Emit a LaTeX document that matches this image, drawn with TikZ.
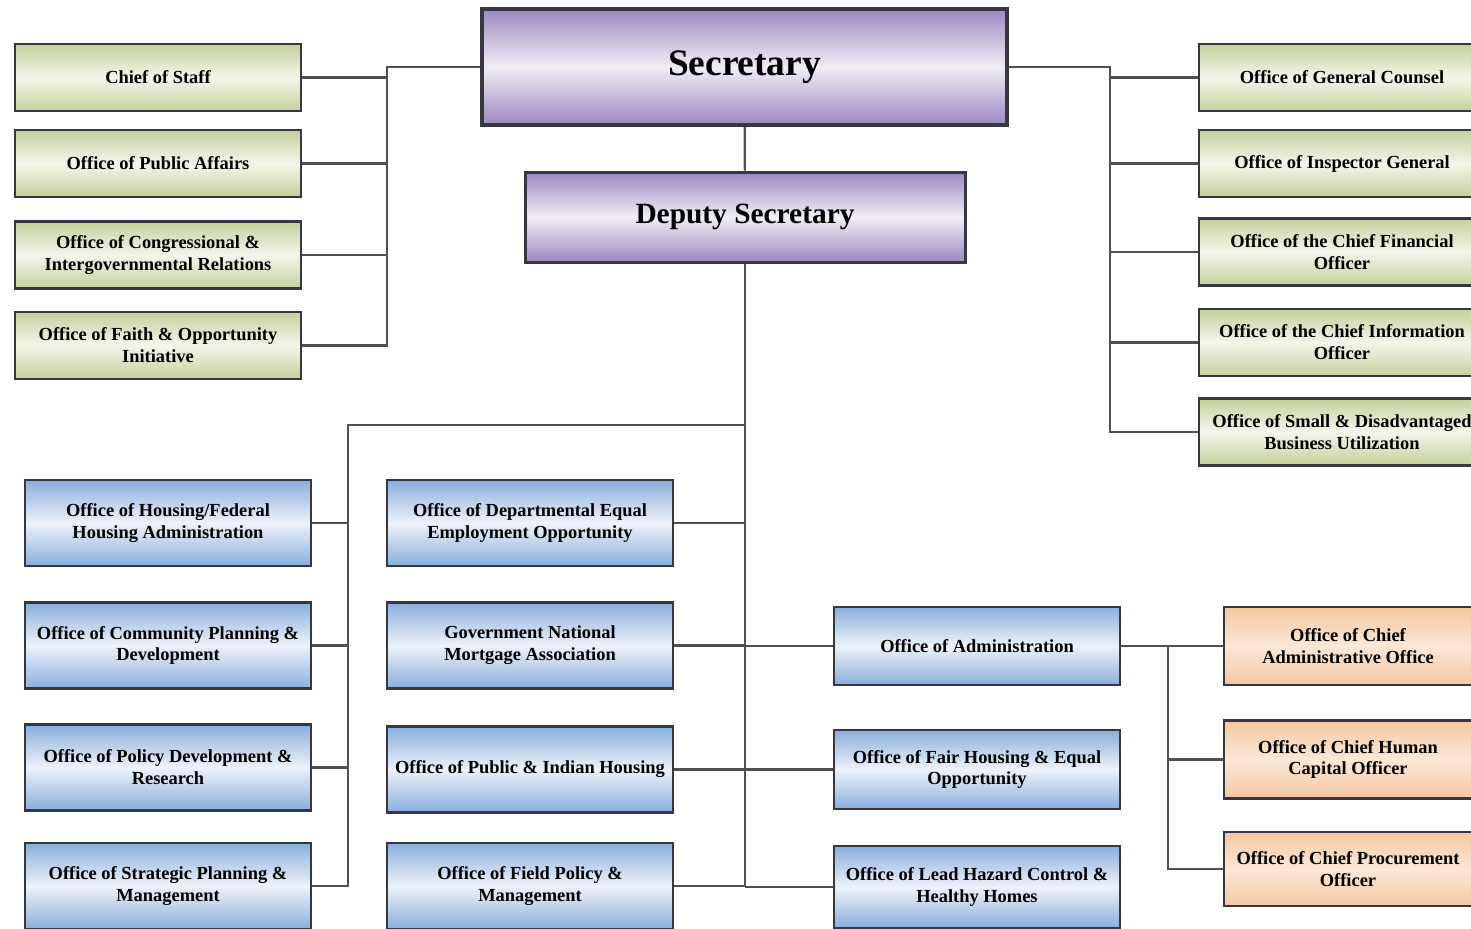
\documentclass[tikz,border=0pt]{standalone}
\usepackage{fontspec}
\setmainfont{Liberation Serif}
\definecolor{edgegray}{RGB}{55,55,65}
\definecolor{wiregray}{RGB}{80,80,80}
\definecolor{greenend}{RGB}{196,208,156}
\definecolor{greenmid}{RGB}{244,246,234}
\definecolor{blueend}{RGB}{136,174,220}
\definecolor{bluemid}{RGB}{238,242,249}
\definecolor{orangeend}{RGB}{244,198,160}
\definecolor{orangemid}{RGB}{252,232,214}
\definecolor{purpleend}{RGB}{156,136,192}
\definecolor{purplemid}{RGB}{240,237,245}
\tikzset{
  unit/.style={draw=edgegray,line width=2.2bp,align=center,inner sep=2bp,
    font=\fontsize{18.5}{22}\selectfont\bfseries},
  greenbox/.style={unit,minimum width=286bp,minimum height=67bp,
    top color=greenend,bottom color=greenend,middle color=greenmid},
  bluebox/.style={unit,minimum width=286bp,minimum height=86bp,
    top color=blueend,bottom color=blueend,middle color=bluemid},
  orangebox/.style={unit,minimum width=248bp,minimum height=78bp,
    top color=orangeend,bottom color=orangeend,middle color=orangemid},
  topbox/.style={unit,line width=4bp,
    top color=purpleend,bottom color=purpleend,middle color=purplemid},
  wire/.style={draw=wiregray,line width=2.2bp}
}
\begin{document}
\begin{tikzpicture}[x=1bp,y=-1bp]
\useasboundingbox (0,0) rectangle (1471,928);
\clip (0,0) rectangle (1471,928);
\fill[white] (0,0) rectangle (1471,928);
% top of the chart
\node[topbox,minimum width=525bp,minimum height=116bp,font=\fontsize{37.5}{40}\selectfont\bfseries] (sec) at (744.5,67) {\raisebox{-3bp}{Secretary}};
\node[topbox,line width=3bp,minimum width=440bp,minimum height=90bp,font=\fontsize{29.5}{32}\selectfont\bfseries] (dep) at (745,217) {Deputy Secretary};
% staff offices, left
\node[greenbox] (cos) at (158,77.5) {Chief of Staff};
\node[greenbox] (opa) at (158,163.5) {Office of Public Affairs};
\node[greenbox] (ocir) at (158,255) {Office of Congressional \&\\Intergovernmental Relations};
\node[greenbox] (faith) at (158,345.5) {Office of Faith \& Opportunity\\Initiative};
% staff offices, right
\node[greenbox] (ogc) at (1342,77.5) {Office of General Counsel};
\node[greenbox] (oig) at (1342,163.5) {Office of Inspector General};
\node[greenbox] (cfo) at (1342,252) {Office of the Chief Financial\\Officer};
\node[greenbox] (cio) at (1342,342.5) {Office of the Chief Information\\Officer};
\node[greenbox] (osdbu) at (1342,432) {Office of Small \& Disadvantaged\\Business Utilization};
% program offices
\node[bluebox] (hsg) at (168,523) {Office of Housing/Federal\\Housing Administration};
\node[bluebox] (cpd) at (168,645.5) {Office of Community Planning \&\\Development};
\node[bluebox] (pdr) at (168,767.5) {Office of Policy Development \&\\Research};
\node[bluebox] (spm) at (168,886) {Office of Strategic Planning \&\\Management};
\node[bluebox] (deeo) at (530,523) {Office of Departmental Equal\\Employment Opportunity};
\node[bluebox] (gnma) at (530,645.5) {Government National\\Mortgage Association};
\node[bluebox] (pih) at (530,769.5) {Office of Public \& Indian Housing};
\node[bluebox] (fpm) at (530,886) {Office of Field Policy \&\\Management};
\node[bluebox,minimum height=78bp] (adm) at (977,646) {Office of Administration};
\node[bluebox,minimum height=79bp] (fheo) at (977,769.5) {Office of Fair Housing \& Equal\\Opportunity};
\node[bluebox,minimum height=82bp] (lhc) at (977,887) {Office of Lead Hazard Control \&\\Healthy Homes};
% administration offices
\node[orangebox] (cao) at (1348,646) {Office of Chief\\Administrative Office};
\node[orangebox] (chco) at (1348,759.5) {Office of Chief Human\\Capital Officer};
\node[orangebox,minimum height=74bp] (cpo) at (1348,869) {Office of Chief Procurement\\Officer};
% bus points
\coordinate (lbus) at (387,67);
\coordinate (rbus) at (1110,67);
\coordinate (split) at (745,425);
\coordinate (pbus) at (348,425);
\coordinate (obus) at (1168,646);
% connectors
\draw[wire] (sec) -- (dep);
\draw[wire] (sec.west) -- (lbus) -- (lbus |- faith.east) -- (faith.east);
\foreach \n in {cos,opa,ocir}
  \draw[wire] (\n.east) -- (\n.east -| lbus);
\draw[wire] (sec.east) -- (rbus) -- (rbus |- osdbu.west) -- (osdbu.west);
\foreach \n in {ogc,oig,cfo,cio}
  \draw[wire] (\n.west) -- (\n.west -| rbus);
\draw[wire] (dep.south) -- (dep.south |- fpm.east) -- (fpm.east);
\draw[wire] (split) -- (pbus) -- (pbus |- spm.east) -- (spm.east);
\foreach \n in {hsg,cpd,pdr}
  \draw[wire] (\n.east) -- (\n.east -| pbus);
\foreach \n in {deeo,gnma,pih}
  \draw[wire] (\n.east) -- (\n.east -| split);
\foreach \n in {adm,fheo,lhc}
  \draw[wire] (\n.west) -- (\n.west -| split);
\draw[wire] (adm.east) -- (cao.west);
\draw[wire] (obus) -- (obus |- cpo.west) -- (cpo.west);
\draw[wire] (chco.west) -- (chco.west -| obus);
\end{tikzpicture}
\end{document}
